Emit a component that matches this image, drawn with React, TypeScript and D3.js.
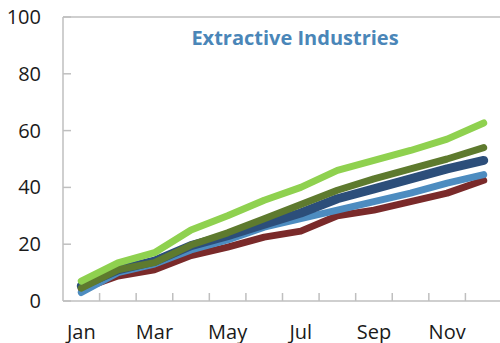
import React from "react";
import * as d3 from "d3";

const months = ["Jan","Feb","Mar","Apr","May","Jun","Jul","Aug","Sep","Oct","Nov","Dec"];
const yTicks = [0, 20, 40, 60, 80, 100];
const darkRed = [4.2, 8.8, 11, 16, 19, 22.5, 24.6, 30, 32, 35, 38, 42.5];
const lightBlue = [3, 10, 13, 18, 21.5, 26, 29, 32, 35, 38, 41.5, 44.5];
const darkBlue = [5.3, 11, 14, 19.5, 23, 27, 31, 36, 39.5, 43, 46.5, 49.5];
const olive = [4.5, 11, 13.5, 19.7, 24, 29, 34, 39, 43, 46.5, 50, 54];
const lightGreen = [7, 13.4, 17, 25, 30, 35.5, 40, 46, 49.5, 53, 57, 62.7];

const series = [
  { name: "darkRed", values: darkRed, color: "#7a2a2a", width: 7 },
  { name: "lightBlue", values: lightBlue, color: "#4d8cc0", width: 7 },
  { name: "darkBlue", values: darkBlue, color: "#2c4e7a", width: 9 },
  { name: "olive", values: olive, color: "#5e7a2e", width: 7 },
  { name: "lightGreen", values: lightGreen, color: "#8fd14f", width: 7 },
];

export default function App() {
  const W = 500, H = 343;
  const left = 63, right = 502, top = 17, bottom = 301;
  const x = d3.scaleBand().domain(months).range([left, right]);
  const y = d3.scaleLinear().domain([0, 100]).range([bottom, top]);
  const line = d3.line<number>()
    .x((_, i) => (x(months[i]) as number) + x.bandwidth() / 2)
    .y((d) => y(d));
  const axisColor = "#bfbfbf";
  const font = "'Open Sans', 'Noto Sans', sans-serif";
  return (
    <svg width={W} height={H} style={{ position: "absolute", left: 0, top: 0 }}>
      <rect width={W} height={H} fill="#fff" />
      <line x1={left} x2={W} y1={top} y2={top} stroke={axisColor} strokeWidth={1.5} />
      {yTicks.map((t) => (
        <g key={t}>
          <line x1={left} x2={left + 8} y1={y(t)} y2={y(t)} stroke={axisColor} strokeWidth={1.5} />
          <text x={41} y={y(t)} dy="0.35em" textAnchor="end" fontFamily={font} fontSize={20} fill="#1a1a1a">{t}</text>
        </g>
      ))}
      {months.map((m) => (
        <line key={m} x1={(x(m) as number) + x.bandwidth()} x2={(x(m) as number) + x.bandwidth()} y1={bottom} y2={bottom - 8} stroke={axisColor} strokeWidth={1.5} />
      ))}
      {months.map((m, i) => i % 2 === 0 ? (
        <text key={m} x={(x(m) as number) + x.bandwidth() / 2} y={332} dy="0.35em" textAnchor="middle" fontFamily={font} fontSize={20} fill="#1a1a1a">{m}</text>
      ) : null)}
      {series.map((s) => (
        <path key={s.name} d={line(s.values) || ""} fill="none" stroke={s.color} strokeWidth={s.width} strokeLinecap="round" strokeLinejoin="round" />
      ))}
      <line x1={left} x2={left} y1={top} y2={bottom} stroke={axisColor} strokeWidth={1.5} />
      <line x1={left} x2={W} y1={bottom} y2={bottom} stroke={axisColor} strokeWidth={1.5} />
      <text x={295} y={38} dy="0.35em" textAnchor="middle" fontFamily={font} fontSize={20} fontWeight="bold" fill="#4a86b8">Extractive Industries</text>
    </svg>
  );
}
